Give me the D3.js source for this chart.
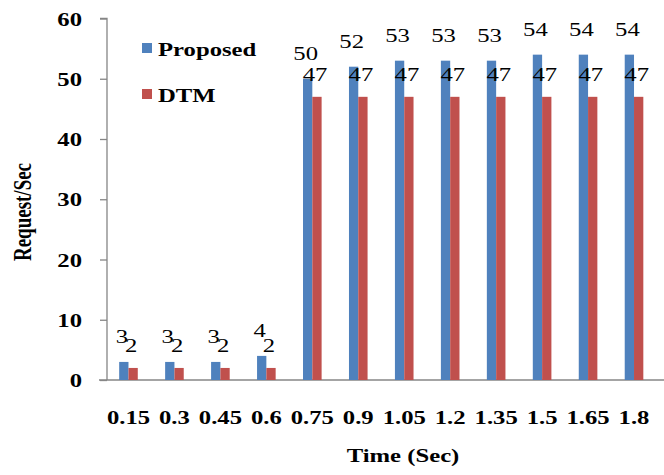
<!DOCTYPE html>
<html>
<head>
<meta charset="utf-8">
<script src="https://cdn.jsdelivr.net/npm/d3@7"></script>
<style>
  html, body { margin: 0; padding: 0; background: #fff; }
  svg text { font-family: "Liberation Serif", "Times New Roman", serif; fill: #000; }
</style>
</head>
<body>
<svg id="chart" width="664" height="475"></svg>
<script>
// Request rate over time for the two schemes
const categories = ["0.15", "0.3", "0.45", "0.6", "0.75", "0.9", "1.05", "1.2", "1.35", "1.5", "1.65", "1.8"];
const proposed = [3, 3, 3, 4, 50, 52, 53, 53, 53, 54, 54, 54];
const dtm = [2, 2, 2, 2, 47, 47, 47, 47, 47, 47, 47, 47];
const yTicks = [0, 10, 20, 30, 40, 50, 60];
const seriesNames = ["Proposed", "DTM"];
const seriesColors = ["#4F81BD", "#C0504D"];

const svg = d3.select("#chart");
const SX = 1.3; // horizontal widening of all lettering

const x = d3.scaleBand().domain(categories).range([105.5, 657]).paddingInner(0).paddingOuter(0);
const y = d3.scaleLinear().domain([0, 60]).range([380, 18.5]);
const barW = 9.3;

// text helper: positioned text stretched horizontally
function label(g, tx, ty, str, opts) {
  const t = g.append("text")
    .attr("transform", `translate(${tx},${ty}) scale(${SX},1)` + (opts.rotate ? ` rotate(${opts.rotate})` : ""))
    .attr("text-anchor", opts.anchor || "middle")
    .attr("font-size", opts.size || 19)
    .attr("font-weight", opts.bold ? "bold" : "normal")
    .text(str);
  return t;
}

// axes
const axisColor = "#868686";
const yAxis = d3.axisLeft(y).tickValues(yTicks).tickSize(7).tickFormat("");
const gy = svg.append("g").attr("transform", "translate(107,0)").call(yAxis);
gy.selectAll("path, line").attr("stroke", axisColor).attr("stroke-width", 1.3);
gy.select(".domain").attr("d", `M-7,${y(60)}H0V${y(0)}`);

svg.append("line")
  .attr("x1", 99).attr("x2", 664)
  .attr("y1", y(0)).attr("y2", y(0))
  .attr("stroke", axisColor).attr("stroke-width", 1.5);

// y tick labels
const gyl = svg.append("g");
yTicks.forEach(v => label(gyl, 82, y(v) + 7, String(v), { anchor: "end", bold: true }));

// x tick labels
const gxl = svg.append("g");
categories.forEach(c => label(gxl, x(c) + x.bandwidth() / 2, 424, c, { bold: true }));

// bars
const series = [proposed, dtm];
series.forEach((vals, si) => {
  svg.append("g").selectAll("rect")
    .data(categories.map((c, i) => ({ c, v: vals[i] })))
    .join("rect")
    .attr("x", d => x(d.c) + x.bandwidth() / 2 + (si === 0 ? -barW : 0))
    .attr("y", d => y(d.v))
    .attr("width", barW)
    .attr("height", d => y(0) - y(d.v))
    .attr("fill", seriesColors[si]);
});

// value labels
const gv = svg.append("g");
const labelLift = [19, 16];
series.forEach((vals, si) => {
  categories.forEach((c, i) => {
    const cx = x(c) + x.bandwidth() / 2 + (si === 0 ? -barW / 2 : barW / 2) - 2;
    label(gv, cx, y(vals[i]) - labelLift[si], String(vals[i]), {});
  });
});

// legend
const gl = svg.append("g");
const legendRows = [48, 94];
seriesNames.forEach((n, i) => {
  gl.append("rect").attr("x", 142).attr("y", legendRows[i] - 5).attr("width", 10).attr("height", 10)
    .attr("fill", seriesColors[i]);
  label(gl, 158, legendRows[i] + 8, n, { anchor: "start", bold: true });
});

// axis titles
label(svg, 403, 462, "Time (Sec)", { bold: true });
label(svg, 31, 212, "Request/Sec", { bold: true, rotate: -90 });
</script>
</body>
</html>
